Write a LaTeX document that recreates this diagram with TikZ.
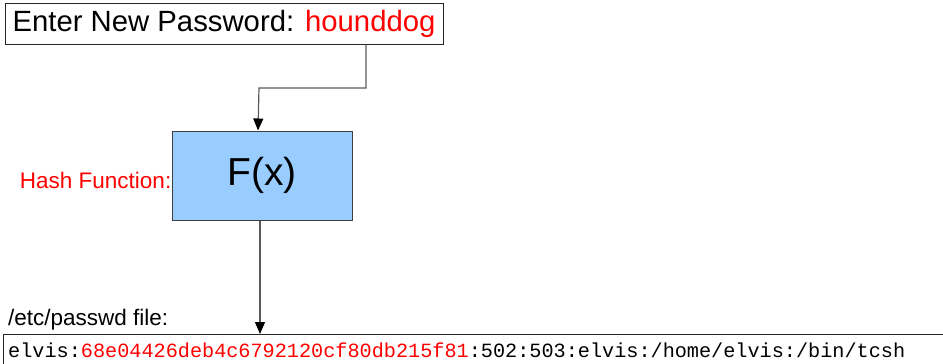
\documentclass[tikz,border=0pt]{standalone}
\usepackage{fontspec}
\setmainfont{Liberation Sans}
\setmonofont{Liberation Mono}
\usetikzlibrary{arrows.meta}
\definecolor{hashblue}{HTML}{99CCFF}
\definecolor{linegray}{HTML}{5A5A5A}
\begin{document}
\begin{tikzpicture}[x=1pt,y=-1pt,
  conn/.style={draw=linegray,line width=1.2pt,-{Triangle[length=12pt,width=10pt,color=black]}},
  boxed/.style={draw=black!85,line width=1pt,inner sep=0pt}]
\useasboundingbox (0,0) rectangle (943,364);
% password prompt
\node[boxed,minimum width=438pt,minimum height=41pt] (pw) at (224,23.5)
  {\fontsize{29.3pt}{31pt}\selectfont Enter New Password: \textcolor{red}{hounddog}};
% hash function box
\node[boxed,fill=hashblue,draw=black!75,minimum width=180pt,minimum height=89pt] (fx) at (262,175.5)
  {\fontsize{39pt}{42pt}\selectfont F(x)};
\node[anchor=east,text=red,inner sep=0pt] (hl) at ([yshift=-5pt]fx.west) {\fontsize{22.5pt}{24pt}\selectfont Hash Function:};
% passwd file line
\node[anchor=west,inner sep=0pt] (pl) at (8,320) {\fontsize{22.5pt}{24pt}\selectfont /etc/passwd file:};
\draw[line width=1pt,black!85] (950,334) -- (3,334) -- (3,370);
\coordinate (ftop) at (260,334);
\node[anchor=west,inner sep=0pt] (entry) at (8,350)
  {\fontsize{20.2pt}{22pt}\selectfont\ttfamily elvis:\textcolor{red}{68e04426deb4c6792120cf80db215f81}:502:503:elvis:/home/elvis:/bin/tcsh};
% connectors
\coordinate (p1) at (366,88);
\coordinate (p2) at (259,88);
\draw[conn] (pw.south -| p1) -- (p1) -- (p2) -- (fx.north -| 258,0);
\draw[conn] (fx.south -| ftop) -- (ftop);
\end{tikzpicture}
\end{document}
